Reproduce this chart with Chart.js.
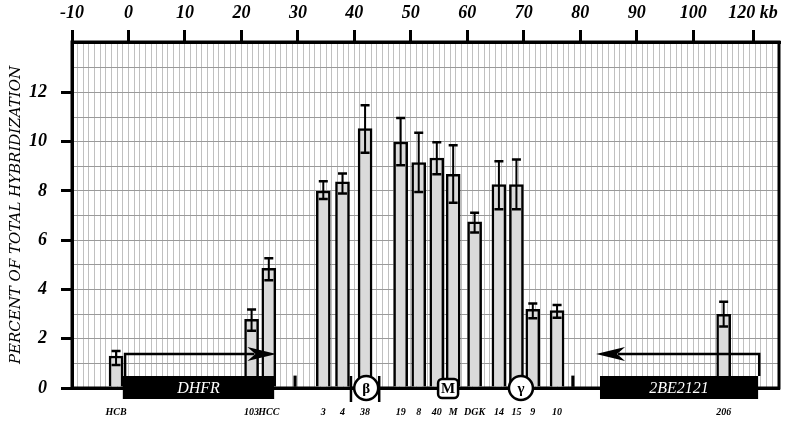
<!DOCTYPE html>
<html>
<head>
<meta charset="utf-8">
<script src="https://cdn.jsdelivr.net/npm/chart.js@4.4.0/dist/chart.umd.min.js"></script>
<style>
  html, body { margin: 0; padding: 0; background: #fff; }
</style>
</head>
<body>
<canvas id="hyb-chart" width="800" height="426"></canvas>
<script>
// probes along the map (kb) and their hybridization
const probeNames = ["HCB", "103", "HCC", "3", "4", "38", "19", "8", "40", "M", "DGK", "14", "15", "9", "10", "206"];
const probeKb = [-2.2, 21.8, 24.85, 34.5, 37.9, 41.9, 48.2, 51.4, 54.6, 57.5, 61.3, 65.6, 68.7, 71.6, 75.9, 105.4];
const hybridization = [1.3, 2.79, 4.86, 8.0, 8.37, 10.53, 9.99, 9.15, 9.34, 8.68, 6.75, 8.26, 8.26, 3.19, 3.14, 2.99];
const errTop = [1.5, 3.19, 5.27, 8.4, 8.71, 11.48, 10.96, 10.36, 9.98, 9.86, 7.12, 9.21, 9.28, 3.43, 3.37, 3.5];
const errBottom = [0.93, 2.32, 4.38, 7.67, 7.9, 9.55, 9.05, 7.96, 8.68, 7.52, 6.31, 7.26, 7.26, 2.83, 2.85, 2.5];

// little marker ticks on the baseline
const markerKb = [29.5, 78.7];
const markerValues = [0.49, 0.49];

// axis ticks
const kbTicks = [-10, 0, 10, 20, 30, 40, 50, 60, 70, 80, 90, 100, 110.6];
const kbTickLabels = ["-10", "0", "10", "20", "30", "40", "50", "60", "70", "80", "90", "100", "120 kb"];
const yTicks = [0, 2, 4, 6, 8, 10, 12];

// genes and origin markers (kb)
const genes = [
  { name: "DHFR", from: -1.0, to: 25.8, arrowStart: -0.6, arrowEnd: 26.2 },
  { name: "2BE2121", from: 83.5, to: 111.5, arrowStart: 111.7, arrowEnd: 82.8 },
];
const origins = [
  { label: "β", kb: 42.1, shape: "circle", brackets: [39.4, 44.4] },
  { label: "M", kb: 56.6, shape: "square" },
  { label: "γ", kb: 69.5, shape: "circle" },
];

const SERIF = "'Liberation Serif', 'DejaVu Serif', serif";
const X_MIN = -10;
const X_MAX = 115.2;
const Y_MAX = 14.05;

const framePlugin = {
  id: "frame",
  beforeDatasetsDraw(chart) {
    const { ctx, chartArea: a } = chart;
    ctx.save();
    ctx.strokeStyle = "#000";
    ctx.lineWidth = 3;
    ctx.strokeRect(a.left, a.top, a.right - a.left, a.bottom - a.top);
    ctx.restore();
  },
};

const errorBarPlugin = {
  id: "errorBars",
  afterDatasetsDraw(chart) {
    const { ctx } = chart;
    const xs = chart.scales.x;
    const ys = chart.scales.y;
    ctx.save();
    ctx.strokeStyle = "#000";
    probeKb.forEach((kb, i) => {
      const x = xs.getPixelForValue(kb);
      const yHi = ys.getPixelForValue(errTop[i]);
      const yLo = ys.getPixelForValue(errBottom[i]);
      ctx.lineWidth = 2;
      ctx.beginPath();
      ctx.moveTo(x, yHi);
      ctx.lineTo(x, yLo);
      ctx.stroke();
      ctx.lineWidth = 2.5;
      ctx.beginPath();
      ctx.moveTo(x - 4.5, yHi);
      ctx.lineTo(x + 4.5, yHi);
      ctx.moveTo(x - 4.5, yLo);
      ctx.lineTo(x + 4.5, yLo);
      ctx.stroke();
    });
    ctx.restore();
  },
};

function drawArrowHead(ctx, tipX, y, dir) {
  ctx.beginPath();
  ctx.moveTo(tipX, y);
  ctx.lineTo(tipX - dir * 29, y - 7);
  ctx.lineTo(tipX - dir * 21, y);
  ctx.lineTo(tipX - dir * 29, y + 7);
  ctx.closePath();
  ctx.fill();
}

const mapPlugin = {
  id: "mapDecor",
  afterDatasetsDraw(chart) {
    const { ctx } = chart;
    const xs = chart.scales.x;
    const base = chart.scales.y.getPixelForValue(0);
    ctx.save();
    ctx.fillStyle = "#000";
    ctx.strokeStyle = "#000";

    // gene boxes with transcription arrows
    genes.forEach((g) => {
      const x1 = xs.getPixelForValue(g.from);
      const x2 = xs.getPixelForValue(g.to);
      ctx.fillStyle = "#000";
      ctx.fillRect(x1, base - 12, x2 - x1, 23);
      ctx.fillStyle = "#fff";
      ctx.font = "italic 16px " + SERIF;
      ctx.textAlign = "center";
      ctx.textBaseline = "middle";
      ctx.fillText(g.name, (x1 + x2) / 2, base + 0.5);

      const ax1 = xs.getPixelForValue(g.arrowStart);
      const ax2 = xs.getPixelForValue(g.arrowEnd);
      const ay = base - 34;
      const dir = ax2 > ax1 ? 1 : -1;
      ctx.strokeStyle = "#000";
      ctx.lineWidth = 2.5;
      ctx.beginPath();
      ctx.moveTo(ax1, base - 12);
      ctx.lineTo(ax1, ay);
      ctx.lineTo(ax2 - dir * 22, ay);
      ctx.stroke();
      ctx.fillStyle = "#000";
      drawArrowHead(ctx, ax2, ay, dir);
    });

    // origin markers
    origins.forEach((o) => {
      const x = xs.getPixelForValue(o.kb);
      if (o.brackets) {
        ctx.lineWidth = 2.5;
        o.brackets.forEach((b) => {
          const bx = xs.getPixelForValue(b);
          ctx.beginPath();
          ctx.moveTo(bx, base - 12);
          ctx.lineTo(bx, base + 14);
          ctx.stroke();
        });
        ctx.beginPath();
        ctx.moveTo(xs.getPixelForValue(o.brackets[0]), base);
        ctx.lineTo(xs.getPixelForValue(o.brackets[1]), base);
        ctx.stroke();
      }
      ctx.fillStyle = "#fff";
      ctx.lineWidth = 2.5;
      ctx.beginPath();
      if (o.shape === "circle") {
        ctx.arc(x, base, 12, 0, Math.PI * 2);
      } else {
        ctx.roundRect(x - 10, base - 9, 20, 19, 4);
      }
      ctx.fill();
      ctx.stroke();
      ctx.fillStyle = "#000";
      ctx.font = "bold 15px " + SERIF;
      ctx.textAlign = "center";
      ctx.textBaseline = "middle";
      ctx.fillText(o.label, x, base + 1);
    });
    ctx.restore();
  },
};

const ctx = document.getElementById("hyb-chart");

new Chart(ctx, {
  type: "bar",
  data: {
    datasets: [
      {
        label: "Percent of total hybridization",
        data: probeKb.map((kb, i) => ({ x: kb, y: hybridization[i] })),
        backgroundColor: "#dadada",
        borderColor: "#000",
        borderWidth: 2.5,
        borderSkipped: "start",
        barThickness: 14,
        grouped: false,
      },
      {
        label: "markers",
        data: markerKb.map((kb, i) => ({ x: kb, y: markerValues[i] })),
        backgroundColor: "#000",
        borderWidth: 0,
        barThickness: 2.5,
        grouped: false,
      },
    ],
  },
  options: {
    responsive: false,
    animation: false,
    layout: { padding: { left: 0, right: 21, top: 0, bottom: 0 } },
    plugins: {
      legend: { display: false },
      tooltip: { enabled: false },
    },
    scales: {
      x: {
        type: "linear",
        position: "bottom",
        offset: false,
        min: X_MIN,
        max: X_MAX,
        afterBuildTicks: (scale) => {
          scale.ticks = probeKb.map((v) => ({ value: v }));
        },
        afterFit: (scale) => {
          scale.height = 38;
        },
        grid: { display: false, drawTicks: false, offset: false },
        border: { display: true, color: "#000", width: 3 },
        ticks: {
          autoSkip: false,
          maxRotation: 0,
          padding: 18,
          color: "#000",
          font: { family: SERIF, size: 10, style: "italic", weight: "bold" },
          callback: (value, index) => probeNames[index],
        },
      },
      xTop: {
        type: "linear",
        position: "top",
        offset: false,
        min: X_MIN,
        max: X_MAX,
        afterBuildTicks: (scale) => {
          scale.ticks = kbTicks.map((v) => ({ value: v }));
        },
        afterFit: (scale) => {
          scale.height = 42;
        },
        grid: {
          drawOnChartArea: false,
          offset: false,
          tickLength: 12,
          color: "#000",
          lineWidth: 3,
        },
        border: { display: true, color: "#000", width: 3 },
        ticks: {
          autoSkip: false,
          maxRotation: 0,
          padding: 6,
          color: "#000",
          font: { family: SERIF, size: 18, style: "italic", weight: "bold" },
          callback: (value, index) => kbTickLabels[index],
        },
      },
      xGrid: {
        type: "linear",
        position: "top",
        offset: false,
        min: X_MIN,
        max: X_MAX,
        afterFit: (scale) => {
          scale.height = 0;
        },
        grid: { color: "#c0c0c0", lineWidth: 1, drawTicks: false, offset: false },
        border: { display: false },
        ticks: { display: false, stepSize: 1, autoSkip: false },
      },
      y: {
        position: "left",
        min: 0,
        max: Y_MAX,
        afterBuildTicks: (scale) => {
          scale.ticks = yTicks.map((v) => ({ value: v }));
        },
        afterFit: (scale) => {
          scale.width = 72;
        },
        grid: {
          drawOnChartArea: false,
          tickLength: 11,
          color: "#000",
          lineWidth: 3,
        },
        border: { display: true, color: "#000", width: 3 },
        ticks: {
          padding: 14,
          color: "#000",
          font: { family: SERIF, size: 18, style: "italic", weight: "bold" },
        },
        title: {
          display: true,
          text: "PERCENT OF TOTAL HYBRIDIZATION",
          color: "#000",
          padding: { top: 7, bottom: 0 },
          font: { family: "'DejaVu Serif', serif", size: 15, style: "italic" },
        },
      },
      yGrid: {
        position: "right",
        min: 0,
        max: Y_MAX,
        afterFit: (scale) => {
          scale.width = 0;
        },
        grid: { color: "#9a9a9a", lineWidth: 1, drawTicks: false },
        border: { display: false },
        ticks: { display: false, stepSize: 1 },
      },
    },
  },
  plugins: [framePlugin, errorBarPlugin, mapPlugin],
});
</script>
</body>
</html>
